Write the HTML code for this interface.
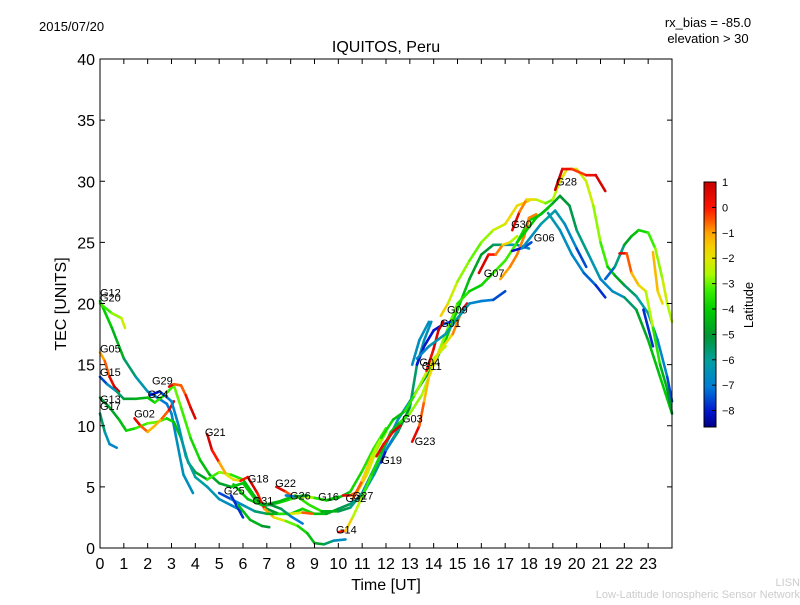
<!DOCTYPE html>
<html><head><meta charset="utf-8"><style>
body{margin:0;background:#fff;width:800px;height:600px;overflow:hidden}
svg{font-family:"Liberation Sans","DejaVu Sans",sans-serif}
</style></head><body>
<svg id="chart" width="800" height="600" xmlns="http://www.w3.org/2000/svg">
<rect width="800" height="600" fill="#fff"/>
<text x="39" y="31" font-size="13">2015/07/20</text>
<text x="708" y="27" font-size="13" text-anchor="middle">rx_bias = -85.0</text>
<text x="708" y="43" font-size="13" text-anchor="middle">elevation &gt; 30</text>
<text x="386" y="52" font-size="16" text-anchor="middle">IQUITOS, Peru</text>
<text x="386" y="590" font-size="16" text-anchor="middle">Time [UT]</text>
<text transform="translate(66,304) rotate(-90)" font-size="16" text-anchor="middle">TEC [UNITS]</text>
<text x="800" y="586" font-size="11" fill="#ccc" text-anchor="end">LISN</text>
<text x="800" y="598" font-size="11" fill="#ccc" text-anchor="end">Low-Latitude Ionospheric Sensor Network</text>
<g id="marks"></g>
<g id="axes"></g>
<g id="cbar"></g>
</svg>
<script>
const xTicks=[0,1,2,3,4,5,6,7,8,9,10,11,12,13,14,15,16,17,18,19,20,21,22,23];
const yTicks=[0,5,10,15,20,25,30,35,40];
const cbTicks=[1,0,-1,-2,-3,-4,-5,-6,-7,-8];
const latMin=-8.6, latMax=1.0;
const trackNames=["G20","G12","G05","G15","G29","G13","G17","G02","G24","G21","G18","G25","G25b","G31b","G31","GU","G22","G26","G16","G14","G19","GR1","GR2","G23","G01","G04","G01r","GT","G09","G07","G07o","GB","G30","G28","GP","GTe","G06","GRt","GRo","GRb","GRy"];
const trackPts=[
[[0,20.2,-4],[0.5,18,-4],[1,15.5,-5],[1.5,14,-6],[2,12.8,-6.5],[2.4,12.3,-7],[2.8,11.8,-7],[3.0,11,-7],[3.2,9,-6.5],[3.5,6,-6.5],[3.9,4.5,-6.5]],
[[0,20,-3.5],[0.5,19.2,-3],[0.9,18.8,-2.5],[1.05,18,-2]],
[[0,16,-1],[0.2,15.3,-1],[0.4,14,0],[0.6,13.2,1],[0.8,12.8,1]],
[[0,14,-8],[0.3,13.4,-7],[0.7,12.8,-6],[1.0,12.2,-5],[1.5,12.2,-4.5],[2.0,12.3,-4.5],[2.3,11.9,-3.5],[2.7,12.5,-3.5],[3.1,13.3,-3],[3.4,11.5,-3],[3.8,9,-3.5],[4.2,7.2,-4],[4.6,6,-4.5],[5.0,5.3,-5],[5.5,5,-4.5],[6.0,5.3,-4],[6.5,4,-4],[7,3.5,-4.5],[7.5,3.7,-4],[8,4,-3.5],[8.5,4.3,-3],[9,4.1,-4],[9.5,3.9,-4.5],[10,4.1,-4.5],[10.5,4.6,-4],[11,6.3,-3.5],[11.5,8.2,-3.5],[12,9.8,-3]],
[[2.9,13.2,1],[3.1,13.4,0],[3.4,13.3,-1],[3.6,12.5,0],[3.8,11.5,0.5],[4.0,10.6,1]],
[[0,12.3,-5],[0.4,11.5,-5],[0.8,10.5,-4.5],[1.1,9.6,-4],[1.5,9.8,-3.5],[2.0,10.2,-3],[2.4,10.3,-3],[2.8,10.6,-3.5],[3.1,10.3,-4],[3.4,9,-4.5],[3.7,7,-5],[4.0,6.2,-5.5],[4.5,5.6,-4],[5.0,6.2,-2.5],[5.5,6,-3],[6,5.6,-4],[6.5,4.2,-4.5],[7,3.2,-5],[7.5,2.8,-5],[8,2.8,-4.5],[8.5,3.2,-3.5],[9,2.8,-4],[9.5,2.8,-4.5],[10,3.2,-5],[10.5,3.6,-5.5],[11,4.3,-6],[11.5,6,-6],[12,8,-5.5],[12.5,9.5,-5],[13,11.5,-5],[13.3,15,-6],[13.6,17,-6.5],[13.9,18.5,-6.5]],
[[0,11,-5],[0.2,9.5,-6],[0.4,8.5,-6.5],[0.7,8.2,-7]],
[[1.45,10.6,1],[1.7,10,0],[2.0,9.5,-1],[2.3,10,-1.5],[2.6,10.6,-1],[2.9,11.3,0],[3.1,12,1]],
[[2.1,12.5,-8],[2.5,12.8,-8],[2.7,12.5,-7],[3.0,12,-7],[3.3,10,-6.5],[3.6,7.5,-6],[4.0,5.8,-6],[4.5,5,-6],[5,4,-6.5],[5.5,3.5,-6.5],[6,3,-7]],
[[4.5,9.3,1],[4.7,8,0.5],[5.0,7,-0.5],[5.3,6,-1.5],[5.6,5.6,-2.5],[5.9,5.5,-1],[6.2,5.8,1]],
[[6.2,5.8,1],[6.6,4.5,0.5],[6.9,3.2,-0.5],[7.3,2.5,-1.5],[7.8,2.2,-2.5],[8.3,1.8,-3.5],[8.7,1.2,-4],[9.0,0.4,-4.5],[9.4,0.3,-5],[9.8,0.6,-6],[10.3,0.7,-7]],
[[5.0,4.5,-8],[5.5,4,-7],[6.0,3.5,-6.5],[6.5,3,-6],[7.0,2.8,-5],[7.5,2.8,-4],[8.0,2.8,-3],[8.5,2.9,-1],[8.9,2.8,0]],
[[5.5,4.3,-7],[6.0,2.5,-8.5]],
[[5.8,3.5,-4.5],[6.3,2.3,-4],[6.8,1.8,-5],[7.1,1.7,-5]],
[[6.7,3.6,-6],[7.2,3.5,-5],[7.6,3.2,-5],[8.0,2.6,-6],[8.5,2,-8]],
[[5.6,5.2,-4],[6.2,4,-4],[6.8,3.5,-4.5],[7.5,3.8,-4.5],[8.2,4.3,-4],[8.8,3.5,-3],[9.3,3,-4],[10,3,-5],[10.5,3.3,-5.5],[11,4.5,-6],[11.5,6.5,-6.5],[12,8.5,-6.5],[12.5,10.5,-6.5],[13,12,-6],[13.5,13.5,-5.5],[14,15,-4.5],[14.5,17,-4],[15,19.5,-4],[15.5,22,-4.5],[16,24,-5],[16.5,24.8,-5],[17,24.8,-6],[17.5,24.8,-6.5],[18,24.5,-7]],
[[7.4,5,1],[7.8,4.6,0],[8.1,4.2,-1],[8.5,4.2,-2],[9.0,4.1,-3],[9.5,3.9,-4],[10,4.2,-4]],
[[7.8,4.3,-8],[8.2,4.2,-6],[8.7,4.3,-4]],
[[10.2,4.3,1],[10.5,4.3,0],[10.8,4.6,-1],[11.2,6,-2],[11.6,8,-2.5],[12,9.5,-3]],
[[10,1.3,1],[10.3,1.4,-1],[10.6,2.5,-2],[11,4.2,-3],[11.4,6,-3.5],[11.8,7.8,-4],[12.2,9.5,-4.5],[12.6,10.3,-4],[13,11,-3],[13.5,12.5,-2.5],[14,15,-2.5],[14.5,17.5,-3],[15,20,-3],[15.5,21,-4],[16,21.5,-4],[16.5,22.5,-3.5],[17,23.5,-3],[17.5,25,-3.5],[18,26.8,-4],[18.5,27.3,-4],[19.0,28.2,-4.5],[19.3,28.8,-5],[19.7,28,-5],[20,26,-5.5],[20.5,24,-6],[21,22,-6.5],[21.5,21,-7],[22,20.5,-6],[22.5,19.5,-5],[23,17,-4.5],[23.5,14,-4],[24,11,-4]],
[[11.8,7,-8],[12,8,-8],[12.3,9,-6],[12.6,10,-6]],
[[11.6,7.5,1],[11.9,8.5,0],[12.3,9.5,0.5],[12.6,10,1]],
[[10.6,4,0],[11,5.5,-1],[11.4,7.5,-2],[11.8,9,-3],[12.3,10.5,-4.5],[12.8,11.2,-4],[13.2,12.5,-3],[13.6,14,-2.5],[14,15.5,-2],[14.5,16.5,-3]],
[[13.1,8.7,1],[13.4,10,0],[13.6,12,-1],[13.8,14,-1.5],[14.2,16,-2],[14.8,17.5,-1.5],[15.2,19.5,0],[15.4,20,1]],
[[13.3,15,-8],[13.6,16.5,-8],[14,17.8,-8],[14.4,18.3,-8],[14.7,18.5,-7]],
[[13.1,15,-6.5],[13.4,17,-6.5],[13.8,18.5,-6.5]],
[[13.7,14.5,0],[14.0,16.3,0.5],[14.2,17.8,1],[14.4,18.5,1]],
[[13.3,15.5,-7],[13.8,16.5,-6.5],[14.5,17.5,-6],[15,18.8,-6],[15.5,20,-6.5],[16,20.2,-7],[16.5,20.3,-7],[17,21,-8]],
[[14.3,19,-1],[14.6,20,-2],[15,21.8,-2.5],[15.5,23.5,-3],[16,25,-3],[16.5,26,-2.5],[17,26.5,-2],[17.5,28,-1.5],[18,28.4,-2]],
[[15.9,22.5,1],[16.3,24,0.5],[16.6,24,-0.5],[16.9,24.8,-1],[17.2,25,-2],[17.5,25.5,-3]],
[[16.8,22,-1],[17.2,23,-1],[17.5,24,-0.5],[17.8,25.5,-1],[18.0,27,-0.5],[18.3,27.3,-1]],
[[17.3,24.3,-8],[17.8,24.6,-8],[18.1,25,-7]],
[[17.3,26,1],[17.6,27.5,0],[17.9,28.5,-1.5],[18.3,28.5,-2],[18.7,28.2,-3],[19,28.5,-3],[19.3,30,-2],[19.6,31,-2],[20,31,-2.5],[20.4,30,-2],[20.7,28,-2.5],[21,25,-3],[21.3,23,-3.5],[21.6,22.3,-4.5],[22,21.5,-5],[22.5,20.6,-6],[23,19.2,-6],[23.4,17,-6.5],[23.8,14,-7],[24,12,-8]],
[[19.1,29.3,1],[19.4,31,1],[19.8,31,-0.5],[20.4,30.5,0],[20.8,30.5,0.5],[21.2,29.2,1]],
[[17.5,25,-4],[18.3,27,-4],[18.8,27.8,-4.5]],
[[17.7,24.5,-7],[18.5,26.5,-6],[19.1,27.6,-6],[19.5,26.5,-6.5],[20,24.5,-7],[20.4,23,-8]],
[[18.8,27.4,-6],[19.3,26,-6.5],[19.8,24,-6.5],[20.3,22.5,-7],[20.8,21.5,-7.5],[21.2,20.5,-8]],
[[21.2,22,-8],[21.6,23,-6.5],[22,24.8,-5],[22.3,25.5,-4.5],[22.6,26,-4],[23,25.8,-3.5],[23.3,24.5,-3],[23.6,22,-2.5],[23.8,20,-2],[24,18.5,-3]],
[[21.8,24.1,1],[22.1,24.1,0],[22.3,22.5,-1],[22.6,21.5,-1.5],[22.9,21,-2],[23.2,18,-3],[23.5,15,-4],[23.8,13,-5],[24,11,-5]],
[[22.8,19.5,-8],[23.0,18,-7.5],[23.2,16.5,-8]],
[[23.2,24.2,-1],[23.4,21,-1.5],[23.6,20,-2]]
];
const labelNames=["G12","G20","G05","G15","G13","G17","G02","G29","G24","G21","G25","G18","G31","G22","G26","G16","G32","G27","G14","G19","G03","G23","G04","G11","G01","G09","G07","G30","G06","G28"];
const labelT=[0,0,0,0,0,0,1.43,2.18,2.0,4.4,5.2,6.2,6.4,7.35,7.97,9.15,10.3,10.6,9.9,11.8,12.67,13.2,13.4,13.5,14.27,14.56,16.1,17.25,18.2,19.14];
const labelV=[20.9,20.5,16.3,14.4,12.2,11.6,11.0,13.7,12.6,9.5,4.7,5.7,3.9,5.3,4.3,4.2,4.1,4.3,1.5,7.2,10.6,8.75,15.2,14.9,18.4,19.5,22.5,26.5,25.4,30.0];

const X0=100,X1=672,Y0=548,Y1=59;
const xs=t=>X0+(t/24)*(X1-X0);
const ys=v=>Y0-(v/40)*(Y0-Y1);
const NS="http://www.w3.org/2000/svg";
const cmapStops=[[1.0,[200,0,0]],[0,[255,20,0]],[-0.5,[255,90,0]],[-1,[255,165,0]],[-1.5,[245,205,0]],[-2,[225,230,0]],[-2.6,[170,250,0]],[-3.2,[60,240,0]],[-4,[0,205,0]],[-5,[0,150,50]],[-6,[0,160,160]],[-7,[0,125,215]],[-8,[0,20,205]],[-8.6,[0,0,130]]];
function latColor(l){
 if(l>=cmapStops[0][0])return 'rgb('+cmapStops[0][1].join(',')+')';
 for(let i=0;i<cmapStops.length-1;i++){
  const a=cmapStops[i],b=cmapStops[i+1];
  if(l<=a[0]&&l>=b[0]){const f=(a[0]-l)/(a[0]-b[0]);
   return 'rgb('+a[1].map((c,k)=>Math.round(c+(b[1][k]-c)*f)).join(',')+')';}
 }
 return 'rgb(0,0,130)';
}
function mk(tag,attrs,parent){const e=document.createElementNS(NS,tag);for(const k in attrs)e.setAttribute(k,attrs[k]);parent.appendChild(e);return e;}
const marks=document.getElementById('marks');
trackPts.forEach((pts,i)=>{
 const g=mk('g',{},marks);
 
 
 for(let j=0;j<pts.length-1;j++){
  const a=pts[j],b=pts[j+1];
  const s=mk('line',{x1:xs(a[0]),y1:ys(a[1]),x2:xs(b[0]),y2:ys(b[1]),stroke:latColor((a[2]+b[2])/2),'stroke-width':2.6,'stroke-linecap':'round'},g);
  
  
 }
});
labelNames.forEach((n,i)=>{
 const t=mk('text',{x:xs(labelT[i]),y:ys(labelV[i])+4,'font-size':11},marks);
 t.textContent=n;
 
 
});
const ax=document.getElementById('axes');
const fr=mk('rect',{x:X0,y:Y1,width:X1-X0,height:Y0-Y1,fill:'none',stroke:'#000','stroke-width':1},ax);


xTicks.forEach(t=>{
 const x=xs(t);
 mk('line',{x1:x,y1:Y0,x2:x,y2:Y0-5,stroke:'#000'},ax);
 mk('line',{x1:x,y1:Y1,x2:x,y2:Y1+5,stroke:'#000'},ax);
 const l=mk('text',{x:x,y:Y0+21,'font-size':16,'text-anchor':'middle'},ax);
 l.textContent=t;
 
 
});
yTicks.forEach(v=>{
 const y=ys(v);
 mk('line',{x1:X0,y1:y,x2:X0+5,y2:y,stroke:'#000'},ax);
 mk('line',{x1:X1,y1:y,x2:X1-5,y2:y,stroke:'#000'},ax);
 const l=mk('text',{x:X0-5,y:y+6,'font-size':16,'text-anchor':'end'},ax);
 l.textContent=v;
 
 
});
const cb=document.getElementById('cbar');
const CX=704,CW=12,CT=182,CB=427;
for(let i=0;i<CB-CT;i++){
 mk('rect',{x:CX,y:CT+i,width:CW,height:1.2,fill:latColor(latMax-(i/(CB-CT))*(latMax-latMin))},cb);
}
const cbf=mk('rect',{x:CX,y:CT,width:CW,height:CB-CT,fill:'none',stroke:'#000'},cb);


cbTicks.forEach(v=>{
 const y=CT+(latMax-v)*25.4;
 mk('line',{x1:CX+CW-4,y1:y,x2:CX+CW,y2:y,stroke:'#000'},cb);
 const l=mk('text',{x:CX+CW+6,y:y+4,'font-size':11},cb);
 l.textContent=v<0?'\u2212'+(-v):String(v);
 
 
});
const lt=mk('text',{transform:'translate(753,305) rotate(-90)','font-size':13,'text-anchor':'middle'},cb);
lt.textContent='Latitude';


</script>
</body></html>
